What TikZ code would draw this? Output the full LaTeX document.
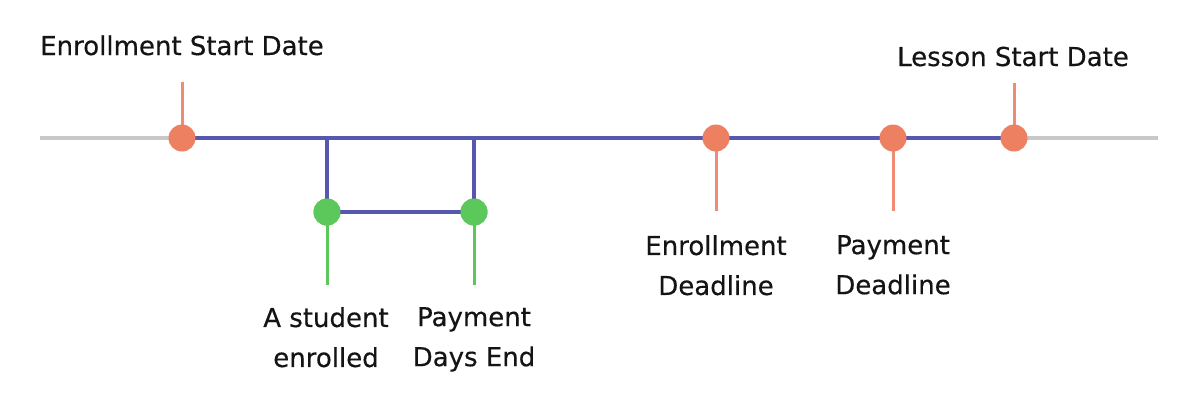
\documentclass[tikz,border=0pt]{standalone}
\usepackage{fontspec}
\setmainfont[FakeBold=0.4]{DejaVu Sans}
\definecolor{tlgray}{RGB}{200,200,200}
\definecolor{tlblue}{RGB}{86,88,176}
\definecolor{tlorange}{RGB}{238,128,98}
\definecolor{tlorangeline}{RGB}{240,140,115}
\definecolor{tlgreen}{RGB}{92,200,92}
\definecolor{tltext}{RGB}{20,20,20}
\begin{document}
\begin{tikzpicture}[x=1pt,y=-1pt,
  odot/.style={circle,fill=tlorange,draw=none,minimum size=27pt,inner sep=0pt},
  gdot/.style={circle,fill=tlgreen,draw=none,minimum size=27pt,inner sep=0pt},
  oline/.style={draw=tlorangeline,line width=3pt},
  gline/.style={draw=tlgreen,line width=3pt},
  bline/.style={draw=tlblue,line width=4.5pt},
  axis/.style={draw=tlgray,line width=4pt},
  lbl/.style={font=\fontsize{26}{40}\selectfont,text=tltext,inner sep=0pt,align=center}]
\useasboundingbox (0,0) rectangle (1192,416);
% coordinates
\coordinate (L) at (40,138);
\coordinate (R) at (1158,138);
\coordinate (esd) at (182,138);
\coordinate (ed) at (716,138);
\coordinate (pd) at (893,138);
\coordinate (lsd) at (1014,138);
\coordinate (b1) at (327,138);
\coordinate (b2) at (474,138);
\coordinate (esdtop) at (182,82);
\coordinate (lsdtop) at (1014,83);
\coordinate (edbot) at (716,211);
\coordinate (pdbot) at (893,211);
\coordinate (s1bot) at (327,285);
\coordinate (s2bot) at (474,285);
% axis
\draw[axis] (L) -- (R);
\draw[bline] (esd) -- (lsd);
% ticks
\draw[oline] (esdtop) -- (esd);
\draw[oline] (lsdtop) -- (lsd);
\draw[oline] (ed) -- (edbot);
\draw[oline] (pd) -- (pdbot);
% student branch
\node[gdot] (s1) at (327,212) {};
\node[gdot] (s2) at (474,212) {};
\draw[gline] (s1.center) -- (s1bot);
\draw[gline] (s2.center) -- (s2bot);
\draw[bline] (b1) -- (s1.center) -- (s2.center) -- (b2);
\node[gdot] at (s1) {};
\node[gdot] at (s2) {};
% orange dots
\node[odot] (n1) at (esd) {};
\node[odot] (n2) at (ed) {};
\node[odot] (n3) at (pd) {};
\node[odot] (n4) at (lsd) {};
% labels
\node[lbl,anchor=base] (t1) at (182,55) {Enrollment Start Date};
\node[lbl,anchor=base] (t2) at (1013,66) {Lesson Start Date};
\node[lbl,anchor=north] (t3) at (716,235) {Enrollment\\Deadline};
\node[lbl,anchor=north] (t4) at (893,235) {Payment\\Deadline};
\node[lbl,anchor=north] (t5) at (326,307) {A student\\enrolled};
\node[lbl,anchor=north] (t6) at (474,307) {Payment\\Days End};
\end{tikzpicture}
\end{document}
